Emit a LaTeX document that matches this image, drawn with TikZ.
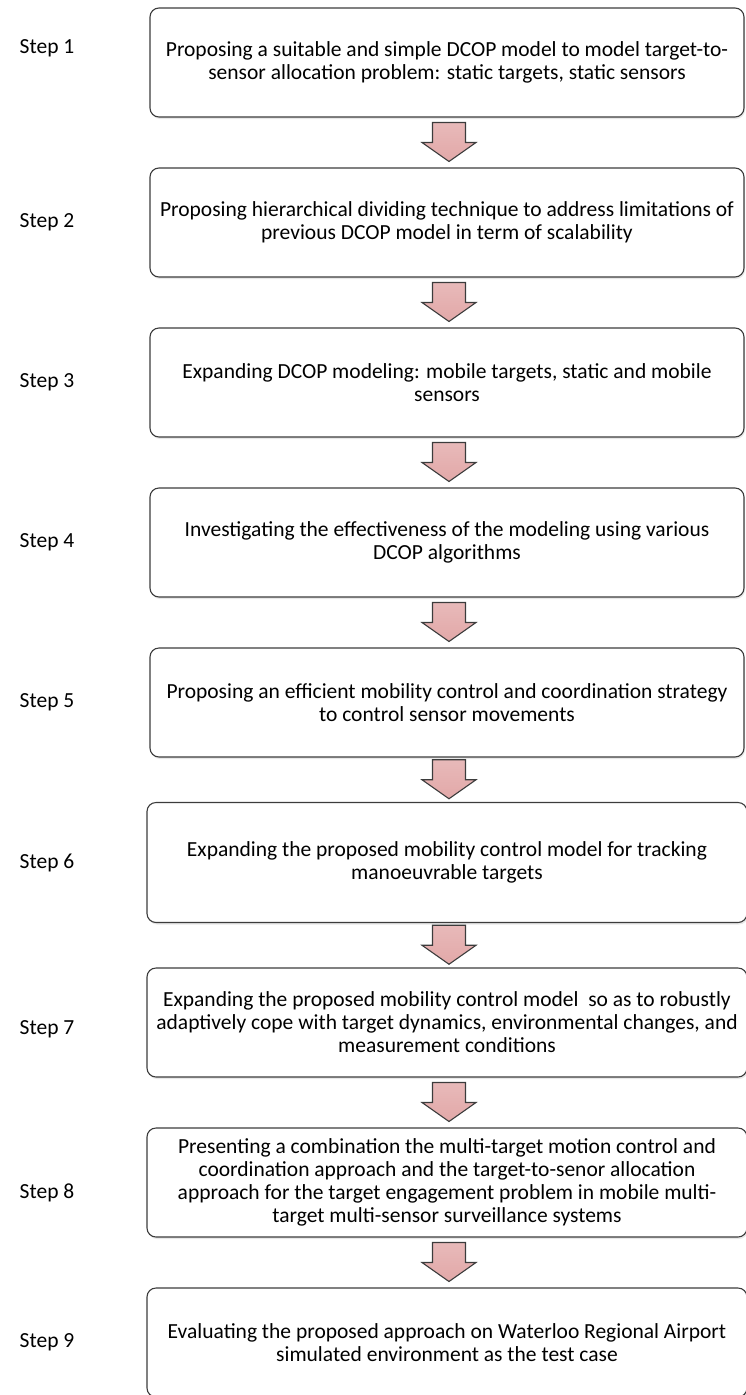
\documentclass[tikz,border=0pt]{standalone}
\usepackage{fontspec}
\setmainfont{Carlito}
\usetikzlibrary{positioning,shadows,calc}

\definecolor{boxedge}{RGB}{60,60,60}
\definecolor{arrowlight}{RGB}{252,236,236}
\definecolor{arrowdark}{RGB}{226,168,168}

\newcommand{\steptext}{\fontsize{21.5pt}{23pt}\selectfont}

\tikzset{
  stepbox/.style={draw=boxedge, line width=1.1pt, rounded corners=9pt, fill=white,
    minimum width=594pt, minimum height=109pt, inner sep=0pt, align=center,
    font=\steptext, drop shadow={shadow xshift=1pt, shadow yshift=-2pt, opacity=0.18}},
  widebox/.style={stepbox, minimum width=600pt},
  steplabel/.style={font=\steptext},
  blockdown/.pic={
    \draw[boxedge, line width=1.1pt, line join=miter, top color=arrowdark!80!white,
      middle color=arrowlight, bottom color=arrowdark]
      (-16.5pt,20pt) -- (16.5pt,20pt) -- (16.5pt,0pt) -- (27pt,0pt)
      -- (0pt,-19pt) -- (-27pt,0pt) -- (-16.5pt,0pt) -- cycle;
  }
}

\begin{document}
\begin{tikzpicture}[node distance=160pt]
    \useasboundingbox (0,0) rectangle (745pt,-1395pt);

    \node[stepbox] (b1) at (447pt,-62.5pt) {Proposing a suitable and simple DCOP model to model target-to-\\sensor allocation problem: static targets, static sensors};
    \node[stepbox] (b2) [below of=b1] {Proposing hierarchical dividing technique to address limitations of\\previous DCOP model in term of scalability};
    \node[stepbox] (b3) [below of=b2] {Expanding DCOP modeling: mobile targets, static and mobile\\sensors};
    \node[stepbox] (b4) [below of=b3] {Investigating the effectiveness of the modeling using various\\DCOP algorithms};
    \node[stepbox] (b5) [below of=b4] {Proposing an efficient mobility control and coordination strategy\\to control sensor movements};
    \node[widebox, minimum height=120pt] (b6) [below of=b5] {Expanding the proposed mobility control model for tracking\\manoeuvrable targets};
    \node[widebox] (b7) [below of=b6] {Expanding the proposed mobility control model~ so as to robustly\\adaptively cope with target dynamics, environmental changes, and\\measurement conditions};
    \node[widebox] (b8) [below of=b7] {Presenting a combination the multi-target motion control and\\coordination approach and the target-to-senor allocation\\approach for the target engagement problem in mobile multi-\\target multi-sensor surveillance systems};
    \node[widebox] (b9) [below of=b8] {Evaluating the proposed approach on Waterloo Regional Airport\\simulated environment as the test case};

    % step numbers on the left
    \foreach \i/\dy in {1/14,2/0,3/0,4/0,5/0,6/0,7/-7,8/-10,9/0}
      \node[steplabel, left of=b\i, node distance=400pt, yshift=\dy pt] (l\i) {Step \i};

    % block arrows between the boxes
    \foreach \i/\j in {1/2,2/3,3/4,4/5,5/6,6/7,7/8,8/9}
      \pic (a\i) at ($(b\i.south)!0.5!(b\j.north)+(2pt,0)$) {blockdown};
  \end{tikzpicture}
\end{document}
